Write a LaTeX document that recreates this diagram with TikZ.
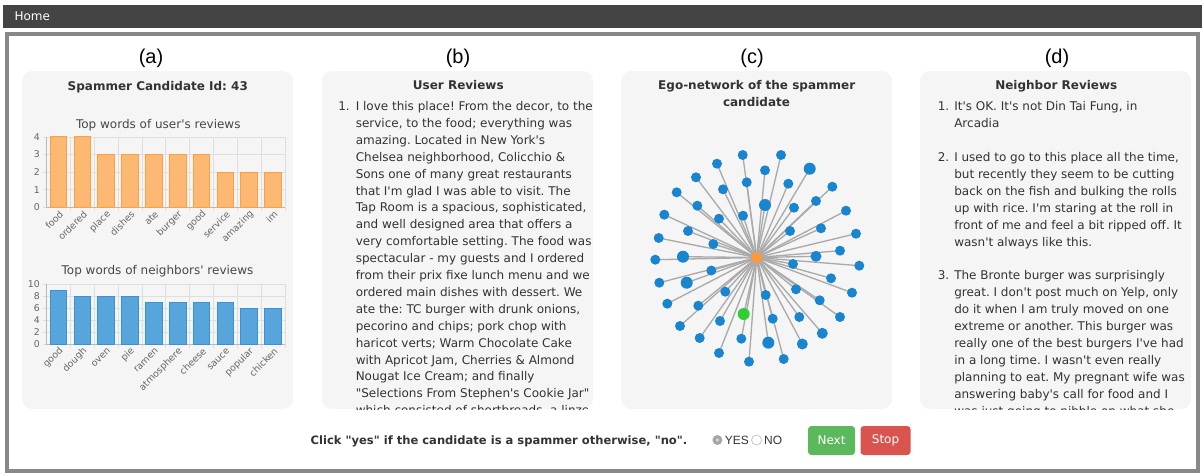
\documentclass[tikz,border=0pt]{standalone}
\usepackage{fontspec}
\newfontfamily\verd{DejaVu Sans}
\newfontfamily\arialf{Liberation Sans}
\usetikzlibrary{positioning,backgrounds}
\frenchspacing

\definecolor{barback}{RGB}{68,68,68}
\definecolor{framegray}{RGB}{136,136,136}
\definecolor{panelgray}{RGB}{245,245,245}
\definecolor{textdark}{RGB}{51,51,51}
\definecolor{gridgray}{RGB}{222,222,222}
\definecolor{axisgray}{RGB}{185,185,185}
\definecolor{ticktext}{RGB}{102,102,102}
\definecolor{orangefill}{RGB}{253,185,115}
\definecolor{orangeline}{RGB}{255,160,64}
\definecolor{bluefill}{RGB}{88,165,220}
\definecolor{blueline}{RGB}{54,145,215}
\definecolor{nodeblue}{RGB}{25,133,207}
\definecolor{egoorange}{RGB}{255,153,51}
\definecolor{spamgreen}{RGB}{51,204,51}
\definecolor{edgegray}{RGB}{170,170,170}
\definecolor{nextgreen}{RGB}{92,184,92}
\definecolor{stopred}{RGB}{217,83,79}

\pgfdeclarelayer{panels}
\pgfdeclarelayer{edges}
\pgfsetlayers{panels,edges,main}

\tikzset{
  every picture/.style={line width=0.75pt},
  panelbox/.style={fill=panelgray, rounded corners=7.5pt},
  headtext/.style={font=\verd\bfseries\fontsize{9}{11}\selectfont, text=textdark, inner sep=0pt, anchor=base},
  lettertext/.style={font=\arialf\fontsize{15}{18}\selectfont, text=black, inner sep=0pt, anchor=base},
  charttitle/.style={font=\verd\fontsize{9}{11}\selectfont, text=textdark!90, inner sep=0pt, anchor=base},
  reviewtext/.style={font=\verd\fontsize{9}{12}\selectfont, text=textdark, inner sep=0pt, anchor=base west},
  gridline/.style={draw=gridgray, line width=0.6pt},
  axisline/.style={draw=axisgray, line width=0.75pt},
  ylab/.style={font=\verd\fontsize{7}{8}\selectfont, text=ticktext, inner sep=0pt, anchor=east},
  xlab/.style={font=\verd\fontsize{7}{8}\selectfont, text=ticktext, inner sep=0pt, anchor=east, rotate=45},
  userbar/.style={fill=orangefill, draw=orangeline, line width=0.75pt},
  neighbar/.style={fill=bluefill, draw=blueline, line width=0.75pt},
  netnode/.style={circle, inner sep=0pt},
  edgeline/.style={draw=edgegray, line width=1pt},
  radiotext/.style={font=\arialf\fontsize{9}{10}\selectfont, text=textdark, inner sep=0pt},
  btn/.style={font=\verd\fontsize{9}{11}\selectfont, text=white, rounded corners=2.5pt, inner sep=0pt, minimum height=21.75pt}
}

\begin{document}
\begin{tikzpicture}[x=0.75pt, y=-0.75pt]
    \useasboundingbox (0,0) rectangle (1202,475);

    % --- top bar and frame ---
    \fill[barback] (3.3,5) rectangle (1202,28.3);
    \node[font=\verd\fontsize{9}{11}\selectfont, text=white, inner sep=0pt, anchor=base west] (home) at (14,20.1) {Home};
    \draw[framegray, line width=3pt] (7.3,34.2) rectangle (1197.5,471);

    % --- panels ---
    \begin{pgfonlayer}{panels}
        \foreach \px in {22,322,621,920} {
            \fill[panelbox] (\px,71) rectangle ({\px+271},409);
        }
    \end{pgfonlayer}

    % --- panel letters ---
    \foreach \lx/\lt in {151/a,458/b,752/c,1057/d} {
        \node[lettertext] (lab\lt) at (\lx,63) {(\lt)};
    }

    % --- panel titles ---
    \node[headtext] (titlea) at (157.8,90.3) {Spammer Candidate Id: 43};
    \node[headtext] (titleb) at (458.3,89.5) {User Reviews};
    \node[headtext] (titlec) at (756.7,89.5) {Ego-network of the spammer};
    \node[headtext] (titlec2) at (756.5,106) {candidate};
    \node[headtext] (titled) at (1056.3,89.5) {Neighbor Reviews};

    % --- (a) top words of user's reviews ---
    \node[charttitle] (ctitleu) at (158.3,128) {Top words of user's reviews};
    \foreach \v in {0,...,4} {
        \draw[gridline] (43,{207.3-17.6*\v}) -- (285,{207.3-17.6*\v});
        \node[ylab] (uy\v) at (40,{207.3-17.6*\v}) {\v};
    }
    \foreach \i in {1,...,10} {
        \draw[gridline] ({46.7+23.83*\i},137) -- ({46.7+23.83*\i},211);
    }
    \draw[axisline] (46.7,137) -- (46.7,207.3) -- (285,207.3);
    \foreach \h/\lab [count=\i] in {4/food,4/ordered,3/place,3/dishes,3/ate,3/burger,3/good,2/service,2/amazing,2/im} {
        \pgfmathsetmacro{\cx}{46.7+23.83*(\i-0.5)}
        \draw[userbar] ({\cx-8.35},207.3) rectangle ({\cx+8.35},{207.3-17.6*\h});
        \node[xlab] (ux\i) at ({\cx+3},212.5) {\lab};
    }

    % --- (a) top words of neighbors' reviews ---
    \node[charttitle] (ctitlen) at (157.5,274.7) {Top words of neighbors' reviews};
    \foreach \v in {0,2,...,10} {
        \draw[gridline] (43,{344.3-6*\v}) -- (285,{344.3-6*\v});
        \node[ylab] (ny\v) at (40,{344.3-6*\v}) {\v};
    }
    \foreach \i in {1,...,10} {
        \draw[gridline] ({46.7+23.83*\i},284.3) -- ({46.7+23.83*\i},348);
    }
    \draw[axisline] (46.7,284.3) -- (46.7,344.3) -- (285,344.3);
    \foreach \h/\lab [count=\i] in {9/good,8/dough,8/oven,8/pie,7/ramen,7/atmosphere,7/cheese,7/sauce,6/popular,6/chicken} {
        \pgfmathsetmacro{\cx}{46.7+23.83*(\i-0.5)}
        \draw[neighbar] ({\cx-8.35},344.3) rectangle ({\cx+8.35},{344.3-6*\h});
        \node[xlab] (nx\i) at ({\cx+3},349.5) {\lab};
    }

    % --- (b) user reviews ---
    \begin{scope}
        \clip[rounded corners=7.5pt] (322,71) rectangle (593,409);
        \node[reviewtext] (numb1) at (338,110.5) {1.};
        \foreach \rline [count=\k] in {
            {I love this place! From the decor, to the},
            {service, to the food; everything was},
            {amazing. Located in New York's},
            {Chelsea neighborhood, Colicchio \&},
            {Sons one of many great restaurants},
            {that I'm glad I was able to visit. The},
            {Tap Room is a spacious, sophisticated,},
            {and well designed area that offers a},
            {very comfortable setting. The food was},
            {spectacular - my guests and I ordered},
            {from their prix fixe lunch menu and we},
            {ordered main dishes with dessert. We},
            {ate the: TC burger with drunk onions,},
            {pecorino and chips; pork chop with},
            {haricot verts; Warm Chocolate Cake},
            {with Apricot Jam, Cherries \& Almond},
            {Nougat Ice Cream; and finally},
            {"Selections From Stephen's Cookie Jar"},
            {which consisted of shortbreads, a linzer}} {
            \node[reviewtext] (rb\k) at (355.5,{110.5+16.9*(\k-1)}) {\rline};
        }
    \end{scope}

    % --- (c) ego-network ---
    \node[netnode, fill=egoorange, minimum size=8.25pt] (ego) at (756.7,257.5) {};
    \foreach \x/\y/\r/\c [count=\i] in {
        742.7/155/5/nodeblue, 781/155/5/nodeblue, 717/163.7/5/nodeblue, 765/170.3/5/nodeblue,
        809.7/168.7/6/nodeblue, 696/177.3/5/nodeblue, 746.7/182.3/5/nodeblue, 788.3/183.7/5/nodeblue,
        676.7/192.3/5/nodeblue, 723/189.3/5/nodeblue, 832.3/186.7/5/nodeblue, 765/205/6/nodeblue,
        697.3/205.7/5/nodeblue, 816/201/5/nodeblue, 794/207.7/5/nodeblue, 664.3/214.7/5/nodeblue,
        719/218.7/5/nodeblue, 743/215.7/5/nodeblue, 846/210.7/5/nodeblue, 688/231/5/nodeblue,
        790/231/5/nodeblue, 821/228.3/5/nodeblue, 658.7/238/5/nodeblue, 713.3/244/5/nodeblue,
        856/233.7/5/nodeblue, 840/250.7/5/nodeblue, 816/256.3/5.5/nodeblue, 655.3/259.7/5/nodeblue,
        683/256.7/6/nodeblue, 793/264/5/nodeblue, 859.3/265.7/5/nodeblue, 711.3/270.5/5/nodeblue,
        659.3/282.7/5/nodeblue, 686.7/282.7/6/nodeblue, 831/278.3/5/nodeblue, 852/292.7/5/nodeblue,
        796/289.3/5/nodeblue, 725.3/291.7/5/nodeblue, 765.7/295/5/nodeblue, 667.3/303.7/5/nodeblue,
        698.3/305.7/5/nodeblue, 819.7/300.3/5/nodeblue, 840/317/5/nodeblue, 743.7/314/6/spamgreen,
        772.7/318.7/5/nodeblue, 799.3/317/5/nodeblue, 720/321/5/nodeblue, 680/326/5/nodeblue,
        822.3/333.3/5.5/nodeblue, 699.7/338/5/nodeblue, 741.3/338.7/5/nodeblue, 768.3/342.7/6/nodeblue,
        802.3/344/5.5/nodeblue, 719/353/5/nodeblue, 749/361.7/5/nodeblue, 783.7/359/5/nodeblue} {
        \node[netnode, fill=\c, minimum size=\r*1.5pt] (n\i) at (\x,\y) {};
    }
    \begin{pgfonlayer}{edges}
        \foreach \i in {1,...,56} {
            \draw[edgeline] (ego.center) -- (n\i.center);
        }
    \end{pgfonlayer}

    % --- (d) neighbor reviews ---
    \begin{scope}
        \clip[rounded corners=7.5pt] (920,71) rectangle (1191,409);
        \node[reviewtext] (numd1) at (937.5,110.7) {1.};
        \node[reviewtext] (numd2) at (937.5,{110.7+3*16.92}) {2.};
        \node[reviewtext] (numd3) at (937.5,{110.7+10*16.92}) {3.};
        \foreach \rline [count=\k] in {
            {It's OK. It's not Din Tai Fung, in},
            {Arcadia},
            {},
            {I used to go to this place all the time,},
            {but recently they seem to be cutting},
            {back on the fish and bulking the rolls},
            {up with rice. I'm staring at the roll in},
            {front of me and feel a bit ripped off. It},
            {wasn't always like this.},
            {},
            {The Bronte burger was surprisingly},
            {great. I don't post much on Yelp, only},
            {do it when I am truly moved on one},
            {extreme or another. This burger was},
            {really one of the best burgers I've had},
            {in a long time. I wasn't even really},
            {planning to eat. My pregnant wife was},
            {answering baby's call for food and I},
            {was just going to nibble on what she}} {
            \node[reviewtext] (rd\k) at (954,{110.7+16.92*(\k-1)}) {\rline};
        }
    \end{scope}

    % --- bottom controls ---
    \node[font=\verd\bfseries\fontsize{8.65}{10}\selectfont, text=textdark, inner sep=0pt, anchor=base] (prompt) at (499,444) {Click "yes" if the candidate is a spammer otherwise, "no".};
    \node[circle, fill=gray!70, minimum size=7.5pt, inner sep=0pt] (yesdot) at (717.4,440) {};
    \fill[gray!25] (yesdot.center) circle (1.2pt);
    \node[radiotext, right=1.5pt of yesdot] (yes) {YES};
    \node[circle, draw=gray!50, fill=white, line width=0.5pt, minimum size=7.5pt, inner sep=0pt, right=1.5pt of yes] (nodot) {};
    \node[radiotext, right=1.5pt of nodot] (no) {NO};
    \node[btn, fill=nextgreen, minimum width=35.25pt] (next) at (831.5,440.5) {Next};
    \node[btn, fill=stopred, minimum width=37.5pt, right=3.75pt of next] (stop) {Stop};

\end{tikzpicture}
\end{document}
